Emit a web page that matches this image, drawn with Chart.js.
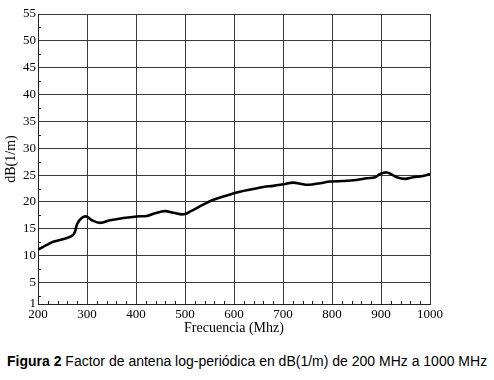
<!DOCTYPE html>
<html>
<head>
<meta charset="utf-8">
<script src="https://cdn.jsdelivr.net/npm/chart.js@4/dist/chart.umd.min.js"></script>
<style>
  body { margin: 0; background: #fff; width: 494px; height: 380px; position: relative; overflow: hidden; }
  #wrap { position: absolute; left: 0; top: 0; width: 494px; height: 340px; }
  #caption { position: absolute; left: 7px; top: 353px; font-family: "Liberation Sans", Arial, sans-serif; font-size: 14px; color: #000; white-space: nowrap; }
</style>
</head>
<body>
<div id="wrap"><canvas id="chart_antennaFactor"></canvas></div>
<div id="caption"><b>Figura 2</b> Factor de antena log-periódica en dB(1/m) de 200 MHz a 1000 MHz</div>
<script>
// frequency (MHz) and antenna factor dB(1/m)
var freqs = [200, 218, 231, 259, 273, 280, 289, 299, 310, 327, 347, 374, 401, 422, 439, 459, 476, 497, 514, 537, 558, 585, 612, 639, 660, 680, 701, 721, 735, 752, 776, 796, 823, 850, 871, 888, 898, 912, 922, 932, 949, 966, 983, 1000];
var factor = [11.1, 12.0, 12.6, 13.3, 14.0, 15.9, 17.0, 17.3, 16.6, 16.1, 16.6, 17.0, 17.3, 17.4, 17.9, 18.3, 18.0, 17.7, 18.4, 19.5, 20.4, 21.2, 21.9, 22.4, 22.8, 23.0, 23.3, 23.6, 23.4, 23.2, 23.5, 23.8, 23.9, 24.1, 24.4, 24.6, 25.2, 25.5, 25.1, 24.6, 24.3, 24.6, 24.8, 25.2];
var xTicks = [200, 300, 400, 500, 600, 700, 800, 900, 1000];
var yTicks = [1, 5, 10, 15, 20, 25, 30, 35, 40, 45, 50, 55];

var points = freqs.map(function (f, i) { return { x: f, y: factor[i] }; });

var serif = '"Liberation Serif", "Times New Roman", serif';

var chart_antennaFactor = new Chart(document.getElementById('chart_antennaFactor'), {
    type: 'line',
    data: {
        datasets: [{
            label: 'Factor de antena',
            data: points,
            borderColor: '#000',
            borderWidth: 2.6,
            pointRadius: 0,
            tension: 0.4,
            fill: false
        }]
    },
    options: {
        animation: false,
        responsive: true,
        maintainAspectRatio: false,
        layout: { padding: { left: 0, right: 64, top: 14, bottom: 0 } },
        plugins: {
            legend: { display: false },
            tooltip: { enabled: false }
        },
        scales: {
            x: {
                type: 'linear',
                min: 200,
                max: 1000,
                afterBuildTicks: function (scale) {
                    scale.ticks = xTicks.map(function (v) { return { value: v }; });
                },
                afterFit: function (scale) { scale.height = 36; },
                grid: { color: '#3a3a3a', lineWidth: 1, tickLength: 0, drawTicks: false },
                border: { color: '#222', width: 1 },
                ticks: {
                    color: '#000', font: { family: serif, size: 13 }, padding: 3, maxRotation: 0,
                    callback: function (v) { return String(v); }
                },
                title: {
                    display: true,
                    text: 'Frecuencia (Mhz)',
                    color: '#000',
                    font: { family: serif, size: 14 },
                    padding: { top: 0, bottom: 3 }
                }
            },
            y: {
                type: 'linear',
                min: 1,
                max: 55,
                afterBuildTicks: function (scale) {
                    scale.ticks = yTicks.map(function (v) { return { value: v }; });
                },
                afterFit: function (scale) { scale.width = 38; },
                grid: { color: '#3a3a3a', lineWidth: 1, tickLength: 0, drawTicks: false },
                border: { color: '#222', width: 1 },
                ticks: {
                    color: '#000', font: { family: serif, size: 13 }, padding: 2,
                    callback: function (v) { return String(v); }
                },
                title: {
                    display: true,
                    text: 'dB(1/m)',
                    color: '#000',
                    font: { family: serif, size: 14 },
                    padding: { top: 3, bottom: 0 }
                }
            }
        }
    },
    plugins: [{
        id: 'minorTicks',
        afterDraw: function (chart) {
            var ctx = chart.ctx;
            var xs = chart.scales.x, ys = chart.scales.y;
            var area = chart.chartArea;
            ctx.save();
            ctx.strokeStyle = '#222';
            ctx.lineWidth = 1;
            ctx.beginPath();
            for (var f = 220; f < 1000; f += 20) {
                if (f % 100 === 0) continue;
                var px = Math.round(xs.getPixelForValue(f)) + 0.5;
                ctx.moveTo(px, area.bottom);
                ctx.lineTo(px, area.bottom - 3);
            }
            for (var v = 2.5; v < 55; v += 5) {
                var py = Math.round(ys.getPixelForValue(v)) + 0.5;
                ctx.moveTo(area.left, py);
                ctx.lineTo(area.left + 3, py);
            }
            ctx.stroke();
            ctx.restore();
        }
    }]
});
</script>
</body>
</html>
